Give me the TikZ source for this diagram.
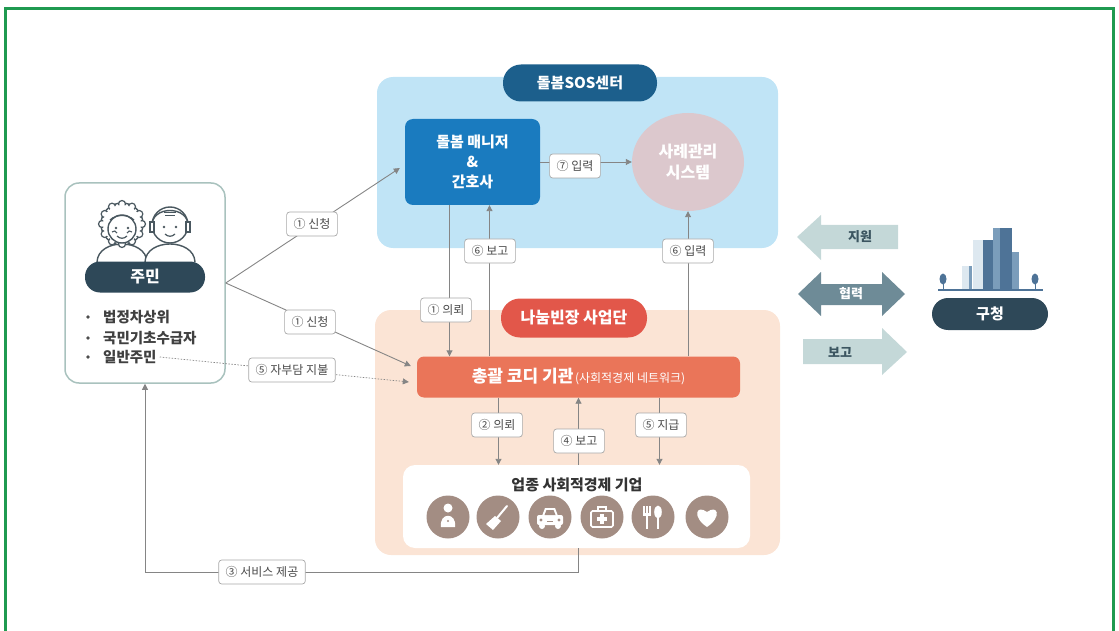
\documentclass[tikz,border=0pt]{standalone}
\usepackage{fontspec}
\setmainfont{Noto Sans CJK KR}
\usetikzlibrary{calc,arrows.meta,shapes.geometric}

\definecolor{framegreen}{HTML}{1F9A50}
\definecolor{sosbg}{HTML}{C0E4F6}
\definecolor{sosdark}{HTML}{1C5F8C}
\definecolor{mgrblue}{HTML}{1A7BBF}
\definecolor{syspink}{HTML}{DCC8CD}
\definecolor{orgbg}{HTML}{FBE4D5}
\definecolor{orgpill}{HTML}{E2574A}
\definecolor{coordorg}{HTML}{EA7559}
\definecolor{iconbrown}{HTML}{A38D83}
\definecolor{slate}{HTML}{2E4858}
\definecolor{boxline}{HTML}{A9C2BE}
\definecolor{linegray}{HTML}{858585}
\definecolor{lblgray}{HTML}{A8A8A8}
\definecolor{lbltext}{HTML}{4A4A4A}
\definecolor{arrlight}{HTML}{C4D8D8}
\definecolor{arrdark}{HTML}{6E8B97}
\definecolor{arrtext}{HTML}{3B5560}
\definecolor{bldA}{HTML}{4E7397}
\definecolor{bldB}{HTML}{7B9DBB}
\definecolor{bldC}{HTML}{DDE8F0}
\definecolor{faceline}{HTML}{4A5860}

\newcommand\fsz[2]{\fontsize{#1}{#2}\selectfont}

\begin{document}
\begin{tikzpicture}[x=1pt,y=-1pt,
  region/.style={rounded corners=16pt,inner sep=0pt},
  pill/.style={text=white,inner sep=0pt},
  lbl/.style={draw=lblgray,fill=white,rounded corners=3pt,text=lbltext,
    font=\fsz{12}{14},minimum height=24pt,inner xsep=7pt,line width=0.7pt},
  arr/.style={draw=linegray,line width=0.9pt,-{Triangle[length=6pt,width=6pt]}},
  dotarr/.style={draw=linegray,line width=0.7pt,dash pattern=on 1.5pt off 1.5pt,
    -{Triangle[length=6pt,width=6pt]}},
  icircle/.style={fill=iconbrown},
  face/.style={draw=faceline,line width=1.4pt,fill=white},
  bigarrtext/.style={font=\fsz{13}{15}\bfseries,inner sep=0pt}
]
\useasboundingbox (0,0) rectangle (1119,631);

% outer frame, open at the bottom
\draw[framegreen,line width=3pt] (5,631) -- (5,9) -- (1113,9) -- (1113,631);

% ---------- background regions ----------
\node[region,fill=sosbg,minimum width=401pt,minimum height=171pt] (sos) at (577.5,162.5) {};
\node[region,fill=orgbg,minimum width=405pt,minimum height=245pt] (org) at (577.5,432.5) {};

% ---------- care SOS center ----------
\node[pill,fill=sosdark,rounded corners=18pt,minimum width=154pt,minimum height=37pt,
  font=\fsz{15}{17}\bfseries] (sostitle) at (580,83) {돌봄SOS센터};
\node[fill=mgrblue,rounded corners=8pt,minimum width=135pt,minimum height=86pt,
  text=white,align=center,font=\fsz{15}{20}\bfseries] (mgr) at (472.5,162)
  {돌봄 매니저\\\&\\간호사};
\node[ellipse,fill=syspink,minimum width=112pt,minimum height=98pt,inner sep=0pt,
  text=white,align=center,font=\fsz{16}{21}\bfseries] (sys) at (688,162)
  {사례관리\\시스템};

% ---------- network team ----------
\node[pill,fill=orgpill,rounded corners=19pt,minimum width=146pt,minimum height=39pt,
  font=\fsz{16}{18}\bfseries] (team) at (574,318) {나눔빈장 사업단};
\node[fill=coordorg,rounded corners=7pt,minimum width=323pt,minimum height=41pt,
  text=white,inner sep=0pt] (cd) at (578.5,377)
  {{\fsz{17}{19}\bfseries 총괄 코디 기관}\,{\fsz{12}{14}(사회적경제 네트워크)}};

% enterprises
\node[fill=white,rounded corners=12pt,minimum width=347pt,minimum height=83pt] (ent) at (576.5,506.5) {};
\node[font=\fsz{15}{17}\bfseries,text=black!80,inner sep=0pt] (enttitle) at (577,485) {업종 사회적경제 기업};

% service icons
\foreach \cx/\nm in {448/ic1,498/ic2,550/ic3,602/ic4,653/ic5,707/ic6}
  \node[circle,icircle,minimum size=43pt,inner sep=0pt] (\nm) at (\cx,517) {};
% person
\begin{scope}[shift={(ic1.center)}]
  \fill[white] (0,-9) circle (4.5);
  \fill[white] (-7,10) .. controls (-9,-5) and (9,-5) .. (7,10) -- cycle;
  \fill[iconbrown] (0,4) circle (1.2);
\end{scope}
% broom
\begin{scope}[shift={(ic2.center)}]
  \draw[white,line width=2pt,line cap=round] (9,-11) -- (-1,1);
  \fill[white] (-3,-1) -- (3,4) -- (-5,13) -- (-12,7) -- cycle;
\end{scope}
% car
\begin{scope}[shift={(ic3.center)}]
  \fill[white] (-8,-1) -- (-5,-9) -- (5,-9) -- (8,-1) -- cycle;
  \fill[white,rounded corners=2pt] (-13,-2) rectangle (13,8);
  \fill[iconbrown] (-5.5,-2) -- (-3.5,-7) -- (3.5,-7) -- (5.5,-2) -- cycle;
  \fill[white] (-8,9) circle (3) (8,9) circle (3);
  \fill[iconbrown] (-9,3) circle (1.6) (9,3) circle (1.6);
  \draw[iconbrown,line width=0.8pt] (-3,4) -- (3,4);
\end{scope}
% first aid kit
\begin{scope}[shift={(ic4.center)}]
  \draw[white,line width=1.6pt,rounded corners=1.5pt] (-11,-6) rectangle (11,10);
  \draw[white,line width=1.6pt] (-4,-6) -- (-4,-10) -- (4,-10) -- (4,-6);
  \fill[white] (-2,-3) rectangle (2,7);
  \fill[white] (-5,0) rectangle (5,4);
\end{scope}
% fork and spoon
\begin{scope}[shift={(ic5.center)}]
  \foreach \tx in {-9,-6,-3}
    \draw[white,line width=1.2pt] (\tx,-11) -- (\tx,-3);
  \fill[white] (-9.6,-4) rectangle (-2.4,-1);
  \draw[white,line width=2.4pt] (-6,-2) -- (-6,12);
  \fill[white] (5,-5) ellipse (3.8 and 6.5);
  \draw[white,line width=2.4pt] (5,0) -- (5,12);
\end{scope}
% heart
\begin{scope}[shift={(ic6.center)}]
  \fill[white] (0,10) .. controls (-15,0) and (-11,-13) .. (0,-5)
     .. controls (11,-13) and (15,0) .. (0,10) -- cycle;
\end{scope}

% ---------- residents ----------
\node[draw=boxline,line width=1.5pt,fill=white,rounded corners=14pt,
  minimum width=160pt,minimum height=200pt] (jumin) at (145,283) {};
% two residents
\draw[face] (97,262) .. controls (98,238) and (146,238) .. (147,262);
\draw[face] (145,262) .. controls (146,238) and (194,238) .. (195,262);
% woman with curly hair
\draw[face] (122,224) circle (21);
\foreach \a in {0,30,...,330}
  \draw[faceline,line width=1.2pt,fill=white] ($(122,224)+(\a:20)$) circle (3.5);
\draw[face,draw=none] (122,224) circle (19);
\draw[faceline,line width=1.4pt] (122,229) circle (14);
\draw[faceline,line width=1.2pt] (110,220) .. controls (116,214) and (128,214) .. (134,220);
\fill[faceline] (116,228) circle (1.3) (128,228) circle (1.3);
\draw[faceline,line width=1.2pt] (117,236) .. controls (120,239) and (124,239) .. (127,236);
\draw[faceline,line width=1.1pt] (112,232) .. controls (114,230) and (116,231) .. (117,233)
  (127,233) .. controls (128,231) and (130,230) .. (132,232);
% man with headset-like hair
\draw[face] (170,225) circle (18);
\draw[faceline,line width=1.4pt] (152,227) .. controls (150,205) and (190,205) .. (188,227);
\draw[faceline,line width=1.4pt,fill=white] (150,222) rectangle (154,232) (186,222) rectangle (190,232);
\draw[faceline,line width=1pt] (164,213) -- (176,213) (165,216) -- (175,216);
\fill[faceline] (164,227) circle (1.3) (176,227) circle (1.3);
\draw[faceline,line width=1.2pt] (165,234) .. controls (168,237) and (172,237) .. (175,234);

\node[pill,fill=slate,rounded corners=15pt,minimum width=120pt,minimum height=31pt,
  font=\fsz{16}{18}\bfseries] (juminpill) at (145,277) {주민};
\foreach \yy/\nm/\txt in {317/b1/법정차상위,338/b2/국민기초수급자,357/b3/일반주민}{
  \fill[black!70] (88,\yy) circle (1.8);
  \node[anchor=west,inner sep=0pt,font=\fsz{14.5}{16}\bfseries,text=black!75] (\nm) at (103,\yy) {\txt};
}

% ---------- district office ----------
% support / cooperation / report arrows
\fill[arrlight] (797,237) -- (821,215) -- (821,225) -- (898,225) -- (898,249) -- (821,249) -- (821,260) -- cycle;
\node[bigarrtext,text=arrtext] (jiwon) at (860,237) {지원};
\fill[arrdark] (798,294) -- (821,272) -- (821,284) -- (882,284) -- (882,272) -- (905,294)
  -- (882,316) -- (882,305) -- (821,305) -- (821,316) -- cycle;
\node[bigarrtext,text=white] (hyeop) at (851,294) {협력};
\fill[arrlight] (803,339) -- (882,339) -- (882,328) -- (907,352) -- (882,375) -- (882,364) -- (803,364) -- cycle;
\node[bigarrtext,text=arrtext] (bogo) at (840,352) {보고};

% buildings
\fill[bldC] (962,266) rectangle (972,290);
\fill[bldB] (969,266) rectangle (972,290);
\fill[bldC] (973,240) rectangle (983,290);
\fill[bldA] (983,240) rectangle (993,290);
\fill[bldB] (993,228) rectangle (1000,290);
\fill[bldA] (1000,228) rectangle (1012,290);
\fill[bldB] (1012,252) rectangle (1019,290);
\draw[bldA,line width=2pt] (938,290) -- (1043,290);
\fill[bldA] (943,279) ellipse (3.5 and 5.5) (1035,279) ellipse (3.5 and 5.5);
\draw[bldA,line width=1pt] (943,283) -- (943,290) (1035,283) -- (1035,290);
\node[pill,fill=slate,rounded corners=16pt,minimum width=116pt,minimum height=32pt,
  font=\fsz{15}{17}\bfseries] (gu) at (990,314) {구청};

% ---------- connectors ----------
\draw[arr] (jumin.east) -- ([xshift=-5pt,yshift=-6pt]mgr.west);
\draw[arr] (jumin.east) -- ([xshift=-6pt,yshift=11pt]cd.west);
\draw[dotarr] ([xshift=3pt]b3.east) -- ([xshift=-8pt,yshift=-5pt]cd.west);
\draw[arr] (mgr.east) -- (sys.west);
\draw[arr] ([xshift=-23pt]mgr.south) -- ([xshift=-23pt]mgr.south |- cd.north);
\draw[arr] ([xshift=17pt]mgr.south |- cd.north) -- ([xshift=17pt]mgr.south);
\draw[arr] (sys.south |- cd.north) -- (sys.south);
\draw[arr] ([xshift=-80pt]cd.south) -- ([xshift=-80pt]cd.south |- ent.north);
\draw[arr] (cd.south |- ent.north) -- (cd.south);
\draw[arr] ([xshift=81pt]cd.south) -- ([xshift=81pt]cd.south |- ent.north);
\draw[arr] ([xshift=2pt]ent.south) -- ++(0,24) -| (jumin.south);

% ---------- connector labels ----------
\node[lbl] (l1a) at (312,224) {① 신청};
\node[lbl] (l1b) at (310,322) {① 신청};
\node[lbl] (l5b) at (292,370) {⑤ 자부담 지불};
\node[lbl] (l7) at (575,166) {⑦ 입력};
\node[lbl] (l6a) at (490,251) {⑥ 보고};
\node[lbl] (l6b) at (688,251) {⑥ 입력};
\node[lbl] (l1c) at (446,310) {① 의뢰};
\node[lbl] (l2) at (497,425) {② 의뢰};
\node[lbl] (l4) at (579,441) {④ 보고};
\node[lbl] (l5a) at (661,425) {⑤ 지급};
\node[lbl] (l3) at (262,572) {③ 서비스 제공};
\end{tikzpicture}
\end{document}
